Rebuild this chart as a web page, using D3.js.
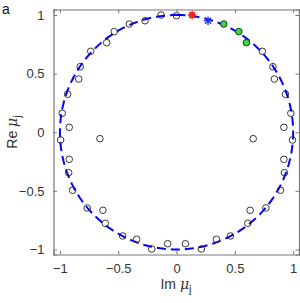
<!DOCTYPE html>
<html>
<head>
<meta charset="utf-8">
<script src="https://cdn.jsdelivr.net/npm/d3@7"></script>
<style>
  body { margin: 0; background: #fff; }
  svg { display: block; font-family: Arial, 'Liberation Sans', sans-serif; }
</style>
</head>
<body>
<svg id="chart" width="300" height="303"></svg>
<script>
// eigenvalues: im on x, re on y
const imVals = [-0.270, -0.405, -0.534, -0.599, -0.736, -0.826, -0.839, -0.934, -0.980, -0.920, -0.994, -0.657, -0.133, 0.000,
  0.736, 0.826, 0.839, 0.934, 0.980, 0.920, 0.994, 0.657,
  -0.920, -0.925, -0.891, -0.766, -0.631, -0.611, -0.462, -0.342, -0.213, -0.076,
  0.076, 0.213, 0.342, 0.462, 0.611, 0.631, 0.766, 0.891, 0.925, 0.920];
const reVals = [0.951, 0.923, 0.858, 0.764, 0.690, 0.559, 0.454, 0.324, 0.162, 0.042, -0.066, -0.055, 1.000, 0.994,
  0.690, 0.559, 0.454, 0.324, 0.162, 0.042, -0.066, -0.055,
  -0.231, -0.345, -0.495, -0.646, -0.666, -0.777, -0.885, -0.913, -0.996, -0.951,
  -0.951, -0.996, -0.913, -0.885, -0.777, -0.666, -0.646, -0.495, -0.345, -0.231];
const greenIm = [0.405, 0.534, 0.599];
const greenRe = [0.923, 0.858, 0.764];
const redPt = [0.133, 1.0];
const bluePt = [0.270, 0.951];
const ticks = [-1, -0.5, 0, 0.5, 1];

const svg = d3.select('#chart');
const x = d3.scaleLinear().domain([-1.055, 1.05]).range([53.5, 299]);
const y = d3.scaleLinear().domain([-1.043, 1.047]).range([254.5, 9.5]);

const axisCol = '#777';
const textCol = '#333';

// unit circle, dashed
const angles = d3.range(0, 361, 2);
svg.append('path')
  .datum(angles)
  .attr('d', d3.line().x(a => x(Math.sin(a * Math.PI / 180))).y(a => y(Math.cos(a * Math.PI / 180))))
  .attr('fill', 'none')
  .attr('stroke', '#0000ff')
  .attr('stroke-width', 2)
  .attr('stroke-dasharray', '9,5');

// open circles
svg.append('g').selectAll('circle')
  .data(imVals.map((d, i) => [d, reVals[i]]))
  .enter()
  .append('circle')
  .attr('cx', d => x(d[0]))
  .attr('cy', d => y(d[1]))
  .attr('r', 3.3)
  .attr('fill', 'none')
  .attr('stroke', '#222')
  .attr('stroke-width', 0.9);

svg.append('g').selectAll('circle')
  .data(greenIm.map((d, i) => [d, greenRe[i]]))
  .enter()
  .append('circle')
  .attr('cx', d => x(d[0]))
  .attr('cy', d => y(d[1]))
  .attr('r', 3.3)
  .attr('fill', '#33dd33')
  .attr('stroke', '#222')
  .attr('stroke-width', 0.9);

function star(g, p, col, fill) {
  const cx = x(p[0]), cy = y(p[1]);
  if (fill) g.append('circle').attr('cx', cx).attr('cy', cy).attr('r', 3).attr('fill', col);
  [0, 45, 90, 135].forEach(a => {
    const dx = 4.2 * Math.cos(a * Math.PI / 180), dy = 4.2 * Math.sin(a * Math.PI / 180);
    g.append('line')
      .attr('x1', cx - dx).attr('y1', cy - dy)
      .attr('x2', cx + dx).attr('y2', cy + dy)
      .attr('stroke', col).attr('stroke-width', 1.4);
  });
}
const mk = svg.append('g');
star(mk, redPt, '#ee2222', true);
star(mk, bluePt, '#2233ee', false);

// axes box
const gx = svg.append('g').attr('transform', `translate(0,${y.range()[0]})`)
  .call(d3.axisBottom(x).tickValues(ticks).tickSize(-3.5).tickPadding(9).tickFormat(d3.format('')));
const gxt = svg.append('g').attr('transform', `translate(0,${y.range()[1]})`)
  .call(d3.axisTop(x).tickValues(ticks).tickSize(-3.5).tickFormat(''));
const gy = svg.append('g').attr('transform', `translate(${x.range()[0]},0)`)
  .call(d3.axisLeft(y).tickValues(ticks).tickSize(-3.5).tickPadding(9).tickFormat(d3.format('')));
const gyr = svg.append('g').attr('transform', `translate(${x.range()[1]},0)`)
  .call(d3.axisRight(y).tickValues(ticks).tickSize(-3.5).tickFormat(''));

[gx, gxt, gy, gyr].forEach(g => {
  g.select('.domain').attr('stroke', axisCol).attr('stroke-width', 1.2);
  g.selectAll('.tick line').attr('stroke', axisCol);
  g.selectAll('.tick text').attr('fill', textCol).style('font-size', '13px');
});

// labels
svg.append('text').attr('x', 2).attr('y', 14)
  .style('font-size', '14px').attr('fill', '#111').text('a');

const xl = svg.append('text').attr('x', 176).attr('y', 289)
  .attr('text-anchor', 'middle').style('font-size', '14px').attr('fill', textCol);
xl.append('tspan').text('Im ');
xl.append('tspan').style('font-style', 'italic').style('font-family', "'DejaVu Serif', serif").text('μ');
xl.append('tspan').attr('dy', 4).style('font-size', '11px').text('j');

const yl = svg.append('text').attr('transform', 'translate(17,132) rotate(-90)')
  .attr('text-anchor', 'middle').style('font-size', '14px').attr('fill', textCol);
yl.append('tspan').text('Re ');
yl.append('tspan').style('font-style', 'italic').style('font-family', "'DejaVu Serif', serif").text('μ');
yl.append('tspan').attr('dy', 4).style('font-size', '11px').text('j');
</script>
</body>
</html>
